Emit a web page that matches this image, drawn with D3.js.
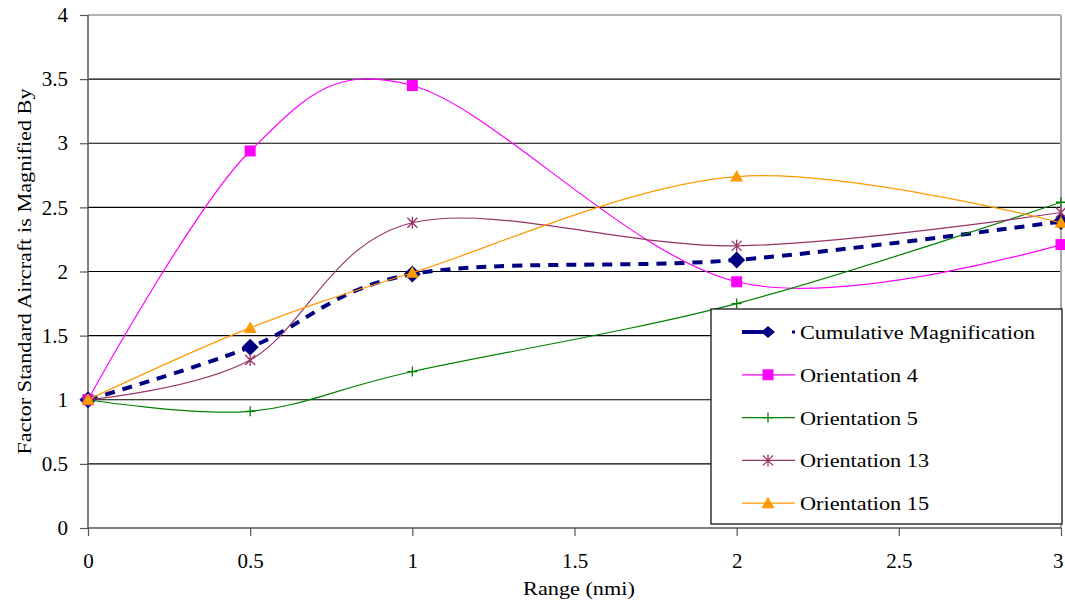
<!DOCTYPE html>
<html><head><meta charset="utf-8">
<script src="https://cdn.jsdelivr.net/npm/d3@7/dist/d3.min.js"></script>
<style>
body{margin:0;background:#fff;}
svg text{font-family:"Liberation Serif","Times New Roman",Times,"DejaVu Serif",serif;}
</style></head>
<body><svg id="c" width="1065" height="604"></svg>
<script>
const xValues = [0, 0.5, 1, 2, 3];
const cumulative = [1.0, 1.41, 1.98, 2.09, 2.39];
const orient4 = [1.0, 2.94, 3.45, 1.92, 2.21];
const orient5 = [1.0, 0.91, 1.22, 1.75, 2.54];
const orient13 = [1.0, 1.31, 2.38, 2.20, 2.46];
const orient15 = [1.0, 1.56, 1.99, 2.74, 2.38];
const xTicks = [0, 0.5, 1, 1.5, 2, 2.5, 3];
const yTicks = [0, 0.5, 1, 1.5, 2, 2.5, 3, 3.5, 4];
const seriesNames = ["Cumulative Magnification","Orientation 4","Orientation 5","Orientation 13","Orientation 15"];

const series = [
  {name: seriesNames[0], values: cumulative, color: "#000080", width: 4, dash: "10,8", marker: "diamond"},
  {name: seriesNames[1], values: orient4, color: "#FF00FF", width: 1.2, dash: null, marker: "square"},
  {name: seriesNames[2], values: orient5, color: "#008000", width: 1.2, dash: null, marker: "plus"},
  {name: seriesNames[3], values: orient13, color: "#993366", width: 1.2, dash: null, marker: "star"},
  {name: seriesNames[4], values: orient15, color: "#FF9900", width: 1.2, dash: null, marker: "triangle"}
];

const svg = d3.select("#c");
const L = 88, R = 1061, T = 15, B = 528;
const x = d3.scaleLinear().domain([0, 3]).range([L, R]);
const y = d3.scaleLinear().domain([0, 4]).range([B, T]);
const STRETCH = 1.17;

// stretch text horizontally around its anchor (reference text is wide)
function stretch(sel) {
  sel.each(function () {
    const t = d3.select(this);
    const w = this.getComputedTextLength();
    t.attr("textLength", w * STRETCH).attr("lengthAdjust", "spacingAndGlyphs");
  });
}

svg.append("g").selectAll("line").data(yTicks.filter(d => d > 0 && d < 4)).join("line")
  .attr("x1", L).attr("x2", R).attr("y1", d => y(d)).attr("y2", d => y(d))
  .attr("stroke", "#000").attr("stroke-width", 1.2);
svg.append("line").attr("x1", L).attr("x2", R).attr("y1", y(4)).attr("y2", y(4)).attr("stroke", "#999").attr("stroke-width", 1.5);
svg.append("line").attr("x1", R).attr("x2", R).attr("y1", T).attr("y2", B).attr("stroke", "#aaa").attr("stroke-width", 2);

const yAxis = d3.axisLeft(y).tickValues(yTicks).tickSize(8).tickPadding(12).tickFormat(d3.format("~g"));
const gy = svg.append("g").attr("transform", `translate(${L},0)`).call(yAxis);
const xAxis = d3.axisBottom(x).tickValues(xTicks).tickSize(8).tickPadding(17).tickFormat(d3.format("~g"));
const gx = svg.append("g").attr("transform", `translate(0,${B})`).call(xAxis);
[gx, gy].forEach(g => {
  g.attr("font-size", 21).attr("font-family", null);
  g.selectAll("path").attr("stroke", "#555").attr("stroke-width", 1.5);
  g.selectAll("line").attr("stroke", "#555").attr("stroke-width", 1.2);
  g.selectAll("text").attr("fill", "#000");
});
gx.select(".domain").attr("d", `M${L},0H${R}`);
gy.select(".domain").attr("d", `M0,${T}V${B}`);
gx.selectAll(".tick").filter(d => d === 3).select("text").attr("text-anchor", "end").attr("dx", 2);

const line = d3.line().x((d, i) => x(xValues[i])).y(d => y(d)).curve(d3.curveCatmullRom.alpha(0));

function marker(g, type, color, legend) {
  if (type === "diamond") {
    g.append("path").attr("d", legend ? "M0,-6L7,0L0,6L-7,0Z" : "M0,-8.5L8.5,0L0,8.5L-8.5,0Z").attr("fill", color);
  } else if (type === "square") {
    g.append("rect").attr("x", -5.5).attr("y", -5.5).attr("width", 11).attr("height", 11).attr("fill", color);
  } else if (type === "triangle") {
    g.append("path").attr("d", "M0,-6.5L6.5,5L-6.5,5Z").attr("fill", color);
  } else if (type === "plus") {
    g.append("path").attr("d", "M-5,0H5M0,-5V5").attr("stroke", color).attr("stroke-width", 1.3);
  } else if (type === "star") {
    g.append("path").attr("d", "M-5,-5L5,5M-5,5L5,-5M0,-6V6").attr("stroke", color).attr("stroke-width", 1.3);
  }
}

series.forEach(s => {
  const p = svg.append("path").datum(s.values).attr("d", line)
    .attr("fill", "none").attr("stroke", s.color).attr("stroke-width", s.width);
  if (s.dash) p.attr("stroke-dasharray", s.dash);
  s.values.forEach((v, i) => {
    const g = svg.append("g").attr("transform", `translate(${x(xValues[i])},${y(v)})`);
    marker(g, s.marker, s.color, false);
  });
});

const lg = svg.append("g");
lg.append("rect").attr("x", 711).attr("y", 309).attr("width", 351).attr("height", 215)
  .attr("fill", "#fff").attr("stroke", "#000").attr("stroke-width", 1.2);
series.forEach((s, i) => {
  const yy = 332 + i * 42.8;
  if (s.dash) {
    lg.append("line").attr("x1", 742).attr("x2", 772).attr("y1", yy).attr("y2", yy).attr("stroke", s.color).attr("stroke-width", s.width);
    lg.append("rect").attr("x", 792).attr("y", yy - 1.5).attr("width", 3).attr("height", 3).attr("fill", s.color);
  } else {
    lg.append("line").attr("x1", 742).attr("x2", 795).attr("y1", yy).attr("y2", yy).attr("stroke", s.color).attr("stroke-width", s.width);
  }
  const g = lg.append("g").attr("transform", `translate(768,${yy})`);
  marker(g, s.marker, s.color, true);
  lg.append("text").attr("x", 800).attr("y", yy).attr("dy", "0.37em").attr("font-size", 19).text(s.name).call(stretch);
});

svg.append("text").attr("x", 579).attr("y", 595).attr("text-anchor", "middle").attr("font-size", 19).text("Range (nmi)").call(stretch);
svg.append("text").attr("transform", `translate(31,${(T + B) / 2}) rotate(-90)`).attr("text-anchor", "middle").attr("font-size", 19).text("Factor Standard Aircraft is Magnified By").call(stretch);
</script></body></html>
